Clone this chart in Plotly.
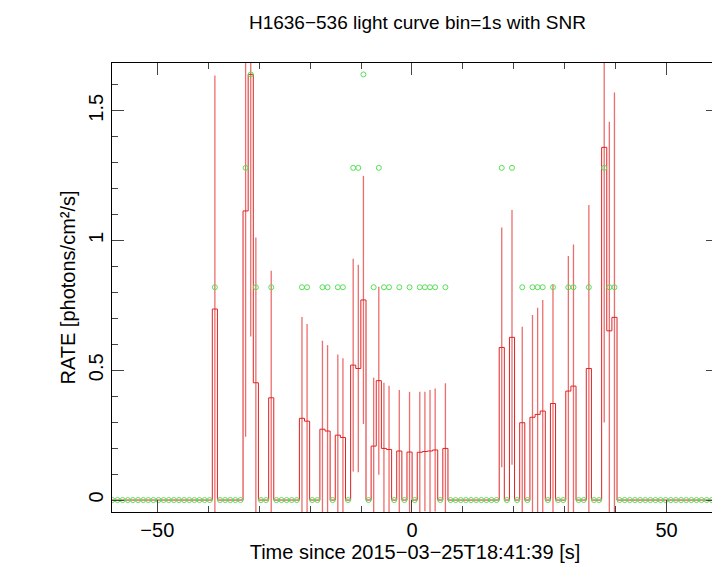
import plotly.graph_objects as go

# bin index (n) -> time = T0 + n*BIN
T0 = -38.7
BIN = 1.006
nz_index = [0, 6, 7, 8, 11, 17, 18, 21, 22, 24, 25, 27, 28, 29, 31, 32, 33, 34, 36, 38,
            40, 41, 42, 43, 45, 56, 58, 60, 62, 63, 64, 66, 69, 70, 73, 76, 77, 78]
nz_rate = [0.736, 1.114, 1.64, 0.452, 0.394, 0.315, 0.304, 0.273, 0.266, 0.250, 0.241,
           0.520, 0.507, 0.771, 0.208, 0.460, 0.199, 0.195, 0.189, 0.185,
           0.184, 0.187, 0.189, 0.193, 0.199, 0.588, 0.627, 0.298, 0.319, 0.330, 0.343,
           0.372, 0.420, 0.439, 0.507, 1.359, 0.652, 0.704]
nz_err = [0.90, 0.87, 1.01, 0.56, 0.49, 0.39, 0.374, 0.341, 0.331, 0.311, 0.305,
          0.41, 0.40, 0.478, 0.263, 0.362, 0.253, 0.245, 0.235, 0.232,
          0.233, 0.230, 0.235, 0.237, 0.251, 0.462, 0.491, 0.37, 0.394, 0.411, 0.428,
          0.46, 0.52, 0.546, 0.63, 1.06, 0.806, 0.866]
nz_snr = [0.82, 1.28, 1.64, 0.82, 0.82, 0.82, 0.82, 0.82, 0.82, 0.82, 0.82,
          1.28, 1.28, 1.64, 0.82, 1.28, 0.82, 0.82, 0.82, 0.82,
          0.82, 0.82, 0.82, 0.82, 0.82, 1.28, 1.28, 0.82, 0.82, 0.82, 0.82,
          0.82, 0.82, 0.82, 0.82, 1.28, 0.82, 0.82]
n_first, n_last = -21, 99

rate_map = dict(zip(nz_index, nz_rate))
snr_map = dict(zip(nz_index, nz_snr))
ns = list(range(n_first, n_last + 1))
t = [T0 + n * BIN for n in ns]
rate = [rate_map.get(n, 0.0) for n in ns]
snr = [snr_map.get(n, 0.0) for n in ns]

edges = [T0 + (n - 0.5) * BIN for n in ns] + [T0 + (n_last + 0.5) * BIN]
step_y = rate + [rate[-1]]

red = "#dd2222"
fig = go.Figure()
fig.add_trace(go.Scatter(
    x=[T0 + n * BIN for n in nz_index], y=nz_rate, mode="markers",
    marker=dict(size=0.1, color="rgba(0,0,0,0)"),
    error_y=dict(type="data", array=nz_err, color="rgba(230,60,60,0.75)", thickness=1.3, width=0),
    hoverinfo="skip", showlegend=False))
fig.add_trace(go.Scatter(x=edges, y=step_y, mode="lines", line=dict(color=red, width=1, shape="hv"),
                         showlegend=False))
fig.add_trace(go.Scatter(x=t, y=snr, mode="markers",
                         marker=dict(symbol="circle-open", size=5, color="#55e055", line=dict(width=1)),
                         showlegend=False))

font = "Liberation Sans, Arial, sans-serif"
fig.update_layout(
    width=712, height=562, paper_bgcolor="white", plot_bgcolor="white",
    margin=dict(l=104, r=2, t=55, b=58, pad=0),
    font=dict(family=font, color="black"),
    title=dict(text="H1636\u2212536 light curve bin=1s with SNR", x=0.575, xanchor="center",
               y=0.975, yanchor="middle", font=dict(size=19)),
    xaxis=dict(range=[-58.9, 60.1], tickmode="array", tickvals=[-50, 0, 50],
               ticktext=["\u221250", "0", "50"], ticks="inside", ticklen=12,
               minor=dict(dtick=10, ticks="inside", ticklen=6, tick0=0),
               showgrid=False, zeroline=False, showline=True, linecolor="black", mirror="allticks",
               tickfont=dict(size=20), automargin=False,
               title=dict(text="Time since 2015\u221203\u221225T18:41:39 [s]", font=dict(size=20), standoff=0)),
    yaxis=dict(range=[-0.046, 1.684], tickmode="array", tickvals=[0, 0.5, 1, 1.5],
               ticktext=["0", "0.5", "1", "1.5"], ticks="inside", ticklen=12, tickangle=-90,
               minor=dict(dtick=0.1, ticks="inside", ticklen=6, tick0=0),
               showgrid=False, zeroline=False, showline=True, linecolor="black", mirror="allticks",
               tickfont=dict(size=20), automargin=False,
               title=dict(text="RATE [photons/cm\u00b2/s]", font=dict(size=20), standoff=4)),
)
fig.write_html("out.html")
